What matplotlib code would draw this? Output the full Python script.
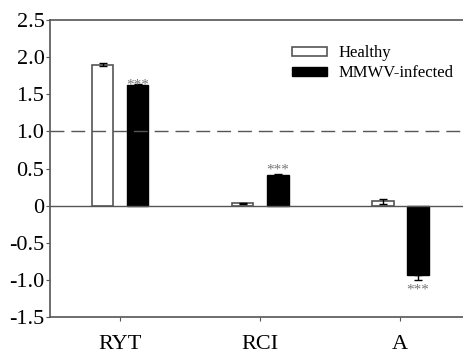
import matplotlib.pyplot as plt
import numpy as np

plt.rcParams['font.family'] = ['Liberation Serif', 'DejaVu Serif']

categories = ['RYT', 'RCI', 'A']
healthy = [1.90, 0.03, 0.06]
healthy_err = [0.02, 0.01, 0.035]
infected = [1.63, 0.41, -0.94]
infected_err = [0.01, 0.02, 0.06]
stars = ['***', '***', '***']
yticks = [-1.5, -1.0, -0.5, 0, 0.5, 1.0, 1.5, 2.0, 2.5]
ytick_labels = ['-1.5', '-1.0', '-0.5', '0', '0.5', '1.0', '1.5', '2.0', '2.5']

fig = plt.figure(figsize=(4.64, 3.56), dpi=100)
ax = fig.add_axes([50 / 464, 1 - 317 / 356, 414 / 464, 297 / 356])

x = np.arange(len(categories))
w = 0.157
off = 0.125
gray = '#555555'

ax.bar(x - off, healthy, w, color='white', edgecolor=gray, linewidth=1.2, label='Healthy',
       yerr=healthy_err, error_kw=dict(ecolor='black', capsize=3, elinewidth=1))
ax.bar(x + off, infected, w, color='black', edgecolor='black', linewidth=1, label='MMWV-infected',
       yerr=[[0 if v > 0 else e for v, e in zip(infected, infected_err)],
             [e if v > 0 else 0 for v, e in zip(infected, infected_err)]],
       error_kw=dict(ecolor='black', capsize=3, elinewidth=1))

# significance stars (RYT stars sit on the bar top, others clear the error bar)
star_shift = [-0.1, -0.04, -0.05]
for xi, v, e, s, d in zip(x, infected, infected_err, stars, star_shift):
    if v > 0:
        ax.text(xi + off, v + e + d, s, ha='center', va='bottom', fontsize=11, color='#777777')
    else:
        ax.text(xi + off, v - e + d, s, ha='center', va='top', fontsize=11, color='#777777')

ax.axhline(1.0, color=gray, linestyle=(0, (10, 5)), linewidth=1)
ax.axhline(0, color=gray, linewidth=1)

ax.set_xlim(-0.5, 2.457)
ax.set_ylim(-1.5, 2.5)
ax.set_yticks(yticks)
ax.set_yticklabels(ytick_labels)
ax.set_xticks(x)
ax.set_xticklabels(categories)
ax.tick_params(axis='y', labelsize=16, length=3, color=gray, pad=1)
ax.tick_params(axis='x', labelsize=16, length=3, color=gray, pad=10)

for side in ['left', 'bottom', 'top']:
    ax.spines[side].set_color(gray)
    ax.spines[side].set_linewidth(1.2)
ax.spines['right'].set_visible(False)

ax.legend(loc='upper left', bbox_to_anchor=(0.585, 0.915), frameon=False, fontsize=12,
          handlelength=2.1, handleheight=0.5, labelspacing=0.25, handletextpad=0.65,
          borderaxespad=0, borderpad=0)

plt.savefig('out.png', dpi=100)
